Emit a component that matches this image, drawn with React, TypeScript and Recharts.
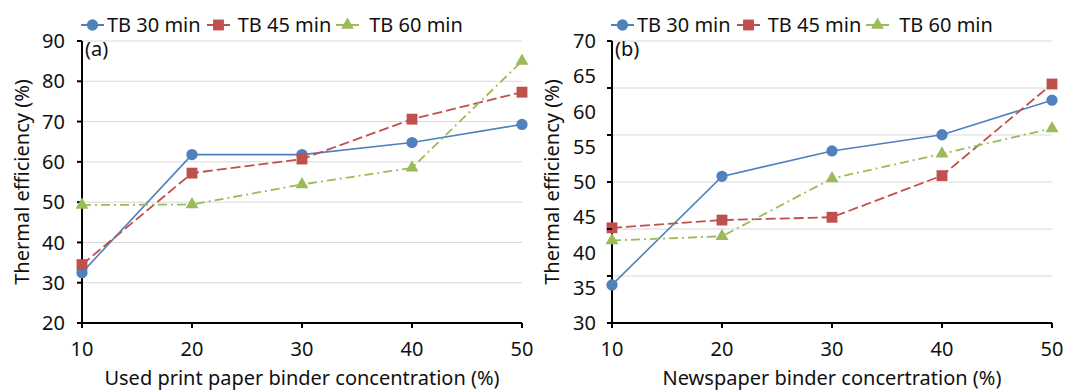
import React from 'react';
import { LineChart, Line, XAxis, YAxis, CartesianGrid, Legend, Label, Symbols } from 'recharts';

// binder concentration (%)
const concentrations = [10, 20, 30, 40, 50];

// (a) used print paper binder
const printTB30 = [32.5, 61.8, 61.8, 64.8, 69.3];
const printTB45 = [34.5, 57.2, 60.7, 70.6, 77.3];
const printTB60 = [49.3, 49.4, 54.4, 58.5, 85.0];

// (b) newspaper binder
const newsTB30 = [35.4, 50.8, 54.4, 56.7, 61.6];
const newsTB45 = [43.5, 44.6, 45.0, 50.9, 63.9];
const newsTB60 = [41.7, 42.3, 50.5, 54.0, 57.6];

const seriesNames = ['TB 30 min', 'TB 45 min', 'TB 60 min'];
const printTicks = [20, 30, 40, 50, 60, 70, 80, 90];
const newsTicks = [30, 35, 40, 45, 50, 55, 60, 65, 70];
// gridlines of panel (b) do not line up with its labels
const newsGrid = [30, 36.67, 43.33, 50, 56.67, 63.33, 70];

const FONT = '"Noto Sans", "Open Sans", sans-serif';
const FS = 20;
const COLORS = ['#4F81BD', '#C0504D', '#9BBB59'];
const SHAPES = ['circle', 'square', 'triangle'] as const;
const SIZES = [100, 118, 72];
const DASHES = [undefined, '10 4', '9 4 2 4'];
const TEXT = '#111';

const printData = concentrations.map((x, i) => ({ x, tb30: printTB30[i], tb45: printTB45[i], tb60: printTB60[i] }));
const newsData = concentrations.map((x, i) => ({ x, tb30: newsTB30[i], tb45: newsTB45[i], tb60: newsTB60[i] }));

const marker = (k: number) => (props: any) => {
  const { cx, cy, index } = props;
  if (cx == null || cy == null) return <g key={index} />;
  return <Symbols key={index} cx={cx} cy={cy} type={SHAPES[k]} size={SIZES[k]} fill={COLORS[k]} stroke="none" />;
};

// spacing copied from the Excel legend: icon, gap, label
const legendGaps = [
  { before: 3, after: 6 },
  { before: 8, after: 5 },
  { before: 10, after: 0 },
];

const LegendRow = () => (
  <div style={{ display: 'flex', alignItems: 'center', fontFamily: FONT, fontSize: FS, color: TEXT, whiteSpace: 'nowrap', lineHeight: '26px' }}>
    {seriesNames.map((name, k) => (
      <div key={name} style={{ display: 'flex', alignItems: 'center', marginRight: legendGaps[k].after }}>
        <svg width={23} height={16} style={{ marginRight: legendGaps[k].before }}>
          <line x1={0} y1={8} x2={23} y2={8} stroke={COLORS[k]} strokeWidth={2} />
          <Symbols cx={11.5} cy={8} type={SHAPES[k]} size={SIZES[k]} fill={COLORS[k]} stroke="none" />
        </svg>
        <span>{name}</span>
      </div>
    ))}
  </div>
);

const TICK_MARGIN = 11;

// labels at newsTicks, short tick marks at newsGrid
const NewsTick = (props: any) => {
  const { x, y, payload } = props;
  const v = payload.value;
  const axisX = x + 5 + TICK_MARGIN;
  return (
    <g>
      {newsGrid.includes(v) && <line x1={axisX - 5} x2={axisX} y1={y} y2={y} stroke="#000" strokeWidth={2} />}
      {newsTicks.includes(v) && (
        <text x={x} y={y} dy="0.35em" textAnchor="end" fill={TEXT} fontSize={FS} fontFamily={FONT}>
          {v}
        </text>
      )}
    </g>
  );
};

type PanelProps = {
  data: any[];
  width: number;
  rightMargin: number;
  tag: string;
  xTitle: string;
  yDomain: [number, number];
  news?: boolean;
};

const Panel = ({ data, width, rightMargin, tag, xTitle, yDomain, news }: PanelProps) => {
  const tickStyle = { fill: TEXT, fontSize: FS, fontFamily: FONT };
  const yTicks = news ? Array.from(new Set([...newsTicks, ...newsGrid])).sort((a, b) => a - b) : printTicks;
  return (
    <LineChart width={width} height={392} data={data} margin={{ top: 41, right: rightMargin, left: 20, bottom: 3 }}>
      <CartesianGrid
        vertical={false}
        stroke="#D9D9D9"
        strokeWidth={1}
        horizontalValues={news ? newsGrid : printTicks}
      />
      <XAxis
        dataKey="x"
        type="number"
        domain={[10, 50]}
        ticks={concentrations}
        height={66}
        axisLine={{ stroke: '#000', strokeWidth: 2 }}
        tickLine={{ stroke: '#000', strokeWidth: 2 }}
        tickSize={5}
        tickMargin={14}
        tick={tickStyle}
        interval={0}
      >
        <Label value={xTitle} position="insideBottom" offset={4} style={{ fill: TEXT, fontSize: FS, fontFamily: FONT }} />
      </XAxis>
      <YAxis
        type="number"
        domain={yDomain}
        ticks={yTicks}
        width={62}
        interval={0}
        axisLine={{ stroke: '#000', strokeWidth: 2 }}
        tickLine={news ? false : { stroke: '#000', strokeWidth: 2 }}
        tickSize={5}
        tickMargin={news ? TICK_MARGIN : 12}
        tick={news ? <NewsTick /> : tickStyle}
      >
        <Label
          value="Thermal efficiency (%)"
          angle={-90}
          position="insideLeft"
          offset={2}
          style={{ fill: TEXT, fontSize: FS, fontFamily: FONT, textAnchor: 'middle' }}
        />
      </YAxis>
      <Legend
        layout="vertical"
        verticalAlign="middle"
        align="center"
        wrapperStyle={{ top: 12, left: 81, width: 440, height: 26 }}
        content={() => <LegendRow />}
      />
      <text x={85} y={56} fill={TEXT} fontSize={FS} fontFamily={FONT}>
        {tag}
      </text>
      {['tb30', 'tb45', 'tb60'].map((key, k) => (
        <Line
          key={key}
          dataKey={key}
          name={seriesNames[k]}
          stroke={COLORS[k]}
          strokeWidth={k === 0 ? 1.6 : 1.8}
          strokeDasharray={DASHES[k]}
          dot={marker(k)}
          activeDot={false}
          isAnimationActive={false}
        />
      ))}
    </LineChart>
  );
};

export default function App() {
  return (
    <div style={{ position: 'absolute', left: 0, top: 0, width: 1066, height: 392, background: '#fff', fontFamily: FONT }}>
      <div style={{ position: 'absolute', left: 0, top: 0 }}>
        <Panel
          data={printData}
          width={540}
          rightMargin={18}
          tag="(a)"
          xTitle="Used print paper binder concentration (%)"
          yDomain={[20, 90]}
        />
      </div>
      <div style={{ position: 'absolute', left: 530, top: 0 }}>
        <Panel
          data={newsData}
          width={536}
          rightMargin={14}
          tag="(b)"
          xTitle="Newspaper binder concertration (%)"
          yDomain={[30, 70]}
          news
        />
      </div>
    </div>
  );
}
